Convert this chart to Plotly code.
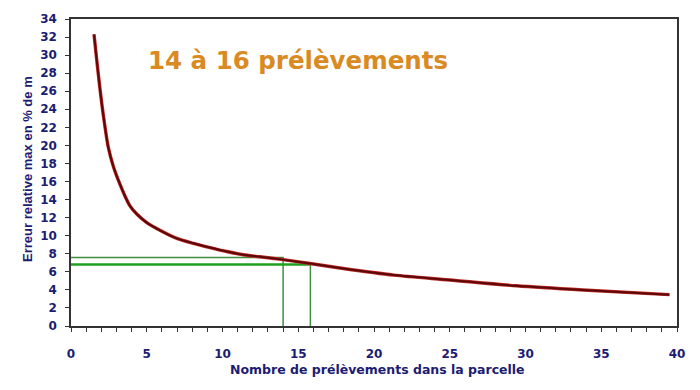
import plotly.graph_objects as go

# Curve: number of samples vs max relative error (% of m)
n_samples = [1.52, 1.69, 1.91, 2.13, 2.46, 2.79, 3.23, 3.56, 3.89, 4.34, 5.0, 5.87,
             6.98, 8.07, 9.17, 10.28, 11.37, 12.47, 14.0, 15.78, 17.97, 21.3, 25.0,
             29.4, 33.8, 39.5]
rel_error = [32.3, 29.6, 26.3, 23.4, 19.8, 17.7, 15.7, 14.4, 13.3, 12.4, 11.45, 10.6,
             9.7, 9.16, 8.69, 8.25, 7.89, 7.67, 7.35, 6.92, 6.37, 5.64, 5.1,
             4.45, 3.98, 3.47]

# Reference lines (green)
ref_n = [14, 15.8]
ref_err = [7.6, 6.8]

x_ticks = [0, 5, 10, 15, 20, 25, 30, 35, 40]
y_ticks = list(range(0, 35, 2))

title_text = "14 à 16 prélèvements"
x_title = "Nombre de prélèvements dans la parcelle"
y_title = "Erreur relative max en % de m"

navy = "#1c1c72"

fig = go.Figure()

# green reference lines
fig.add_trace(go.Scatter(x=[0, ref_n[0], ref_n[0]], y=[ref_err[0], ref_err[0], 0],
                         mode="lines", line=dict(color="#3f8f3f", width=1.5),
                         hoverinfo="skip", showlegend=False))
fig.add_trace(go.Scatter(x=[0, ref_n[1]], y=[ref_err[1], ref_err[1]],
                         mode="lines", line=dict(color="#1fa01f", width=2.5),
                         hoverinfo="skip", showlegend=False))
fig.add_trace(go.Scatter(x=[ref_n[1], ref_n[1]], y=[ref_err[1], 0],
                         mode="lines", line=dict(color="#3f8f3f", width=1.5),
                         hoverinfo="skip", showlegend=False))

# curve (red halo + dark core)
fig.add_trace(go.Scatter(x=n_samples, y=rel_error, mode="lines",
                         line=dict(color="#c02a25", width=3.4, shape="spline", smoothing=0.8),
                         showlegend=False))
fig.add_trace(go.Scatter(x=n_samples, y=rel_error, mode="lines",
                         line=dict(color="#5a0808", width=2.0, shape="spline", smoothing=0.8),
                         showlegend=False))

fig.update_layout(
    width=700, height=390,
    margin=dict(l=71, r=23, t=13, b=64),
    paper_bgcolor="white", plot_bgcolor="white",
    font=dict(family="DejaVu Sans", color=navy),
    xaxis=dict(range=[0, 40], tickvals=x_ticks, ticks="outside", ticklen=4,
               tickwidth=1.2, tickcolor="#333",
               minor=dict(dtick=1, ticks="outside", ticklen=4, tickcolor="#333", tickwidth=1.2),
               showgrid=False, zeroline=False, showline=True, linecolor="#333",
               linewidth=1.5, mirror=True,
               tickfont=dict(family="DejaVu Sans", size=12, color=navy, weight="bold"),
               ticklabelstandoff=12),
    yaxis=dict(range=[0, 34], tickvals=y_ticks, ticks="outside", ticklen=4,
               tickwidth=1.2, tickcolor="#333",
               showgrid=False, zeroline=False, showline=True, linecolor="#333",
               linewidth=1.5, mirror=True,
               tickfont=dict(family="DejaVu Sans", size=12, color=navy, weight="bold"),
               ticklabelstandoff=6),
    annotations=[
        dict(text=title_text, xref="paper", yref="paper", x=0.124, y=0.866,
             xanchor="left", yanchor="middle", showarrow=False,
             font=dict(family="DejaVu Sans", size=24.5, color="#d98a22", weight="bold")),
        dict(text=x_title, xref="paper", yref="paper", x=0.505, y=-0.142,
             xanchor="center", yanchor="middle", showarrow=False,
             font=dict(family="DejaVu Sans", size=12.5, color=navy, weight="bold")),
        dict(text=y_title, xref="paper", yref="paper", x=-0.0718, y=0.513,
             xanchor="center", yanchor="middle", showarrow=False, textangle=-90,
             font=dict(family="Liberation Sans", size=13, color=navy, weight="bold")),
    ],
)

fig.write_html("out.html")
